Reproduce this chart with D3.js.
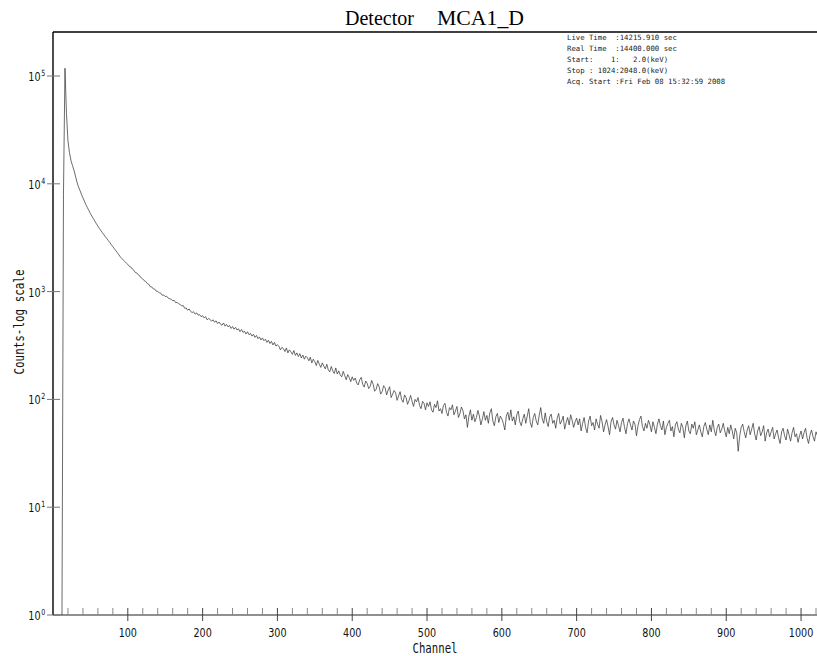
<!DOCTYPE html>
<html lang="en">
<head>
    <meta charset="UTF-8">
    <title>Detector MCA1_D</title>
    <script src="https://d3js.org/d3.v7.min.js"></script>
    <style>
        body { margin: 0; background: #fff; }
    </style>
</head>
<body>
<script>

    const width = 817;
    const height = 656;

    const titleLeft = "Detector";
    const titleRight = "MCA1_D";
    const xLabel = "Channel";
    const yLabel = "Counts-log scale";

    const infoLines = [
        "Live Time  :14215.910 sec",
        "Real Time  :14400.000 sec",
        "Start:    1:   2.0(keV)",
        "Stop : 1024:2048.0(keV)",
        "Acq. Start :Fri Feb 08 15:32:59 2008"
    ];

    const xMajorTicks = [100, 200, 300, 400, 500, 600, 700, 800, 900, 1000];
    const xMinorTicks = [20, 40, 60, 80, 120, 140, 160, 180, 220, 240, 260, 280, 320, 340, 360, 380,
        420, 440, 460, 480, 520, 540, 560, 580, 620, 640, 660, 680, 720, 740, 760, 780,
        820, 840, 860, 880, 920, 940, 960, 980, 1020];
    const yDecades = [0, 1, 2, 3, 4, 5];

    // counts, every second channel starting at channel 12
    const firstChannel = 12;
    const channelStep = 2;
    const counts = [
        // 12 - 98
        1, 8000, 118000, 45000, 25000, 19500, 16500, 14800, 13400, 11800,
        10400, 9400, 8700, 8000, 7400, 6900, 6400, 6000, 5650, 5300,
        5000, 4750, 4500, 4260, 4050, 3850, 3680, 3520, 3370, 3230,
        3100, 2970, 2850, 2720, 2610, 2500, 2400, 2300, 2200, 2100,
        2030, 1960, 1900, 1840,
        // 100 - 130
        1790, 1715, 1690, 1620, 1580, 1505, 1490, 1430, 1400, 1340,
        1310, 1262, 1240, 1190, 1170, 1110,
        // 132 - 200
        1105, 1060, 1055, 1010, 1005, 975, 968, 925, 930, 900,
        905, 870, 858, 850, 822, 830, 790, 795, 770, 762,
        735, 745, 700, 705, 672, 690, 655, 640, 650, 618,
        635, 605, 612, 585, 598,
        // 202 - 300
        570, 586, 548, 562, 552, 530, 548, 520, 536, 505,
        522, 498, 488, 512, 478, 496, 470, 486, 455, 474,
        448, 466, 440, 452, 425, 446, 418, 430, 404, 424,
        398, 410, 386, 402, 376, 392, 366, 380, 356, 372,
        350, 362, 338, 354, 330, 346, 320, 338, 312, 322,
        // 302 - 400
        310, 288, 304, 296, 278, 300, 270, 288, 276, 262,
        284, 256, 270, 250, 266, 242, 258, 236, 252, 244,
        228, 246, 218, 236, 224, 206, 230, 212, 198, 218,
        204, 192, 212, 188, 180, 202, 184, 174, 196, 172,
        184, 168, 162, 182, 166, 152, 170, 160, 146, 162,
        // 402 - 500
        150, 158, 142, 136, 152, 160, 138, 130, 148, 141,
        126, 132, 150, 138, 119, 124, 140, 131, 112, 118,
        134, 128, 110, 122, 131, 104, 112, 121, 115, 98,
        108, 118, 100, 94, 110, 104, 90, 98, 109, 96,
        86, 100, 95, 104, 88, 82, 96, 92, 80, 93,
        // 502 - 600
        86, 95, 80, 76, 90, 84, 97, 78, 82, 74,
        88, 92, 76, 70, 84, 80, 89, 72, 78, 86,
        68, 74, 85, 79, 66, 72, 55, 70, 80, 64,
        73, 62, 68, 79, 70, 58, 66, 77, 64, 71,
        60, 75, 82, 63, 57, 69, 74, 61, 70, 66,
        // 602 - 700
        60, 52, 70, 76, 64, 80, 63, 69, 58, 72,
        78, 62, 57, 66, 73, 60, 70, 82, 61, 55,
        68, 74, 63, 58, 71, 84, 66, 60, 75, 62,
        56, 69, 73, 60, 64, 54, 67, 74, 59, 63,
        70, 53, 61, 68, 58, 72, 64, 55, 62, 67,
        // 702 - 800
        58, 66, 51, 60, 68, 55, 49, 63, 70, 57,
        61, 52, 66, 59, 54, 71, 62, 50, 58, 65,
        56, 47, 62, 68, 58, 53, 64, 57, 50, 61,
        67, 55, 48, 60, 66, 58, 52, 63, 59, 46,
        57, 65, 70, 56, 51, 60, 54, 64, 58, 50,
        // 802 - 900
        62, 55, 48, 59, 66, 57, 52, 63, 47, 55,
        60, 64, 51, 56, 45, 58, 62, 53, 49, 60,
        55, 44, 57, 63, 51, 48, 59, 54, 62, 47,
        52, 58, 50, 45, 56, 61, 53, 47, 58, 50,
        64, 52, 46, 55, 59, 49, 53, 60, 51, 45,
        // 902 - 1024
        55, 48, 58, 51, 43, 54, 49, 33, 46, 55,
        59, 50, 44, 52, 57, 47, 53, 60, 48, 42,
        51, 56, 46, 50, 57, 41, 49, 53, 45, 50,
        55, 43, 48, 52, 44, 39, 50, 54, 46, 42,
        53, 47, 41, 49, 55, 45, 48, 40, 46, 51,
        43, 49, 54, 44, 39, 47, 52, 45, 41, 50,
        46, 48
    ];

    const plotLeft = 53, plotRight = 817, plotTop = 32, plotBottom = 615;

    const x = d3.scaleLinear().domain([0, 1024]).range([53, 819]);
    const y = d3.scaleLog().domain([1, 1e5]).range([615, 76]);

    const svg = d3.select("body").append("svg")
        .attr("width", width)
        .attr("height", height)
        .style("display", "block");

    svg.append("rect").attr("width", width).attr("height", height).attr("fill", "#fff");

    svg.append("clipPath").attr("id", "plot")
        .append("rect")
        .attr("x", plotLeft).attr("y", plotTop)
        .attr("width", plotRight - plotLeft).attr("height", plotBottom - plotTop);

    // spectrum
    const line = d3.line()
        .x((d, i) => x(firstChannel + i * channelStep))
        .y(d => y(d));

    svg.append("path")
        .datum(counts)
        .attr("clip-path", "url(#plot)")
        .attr("fill", "none")
        .attr("stroke", "#3a3a3a")
        .attr("stroke-width", 0.75)
        .attr("d", line);

    // frame
    svg.append("line").attr("x1", plotLeft).attr("x2", plotLeft).attr("y1", plotTop).attr("y2", plotBottom)
        .attr("stroke", "#000").attr("stroke-width", 1.4);
    svg.append("line").attr("x1", plotLeft).attr("x2", plotRight).attr("y1", plotTop).attr("y2", plotTop)
        .attr("stroke", "#000").attr("stroke-width", 1.4);
    svg.append("line").attr("x1", plotLeft).attr("x2", plotRight).attr("y1", plotBottom).attr("y2", plotBottom)
        .attr("stroke", "#222").attr("stroke-width", 1.2);

    const tickFont = "'DejaVu Sans', sans-serif";
    const squeeze = 0.74;

    // x ticks
    svg.selectAll(".xminor").data(xMinorTicks).enter().append("line")
        .attr("x1", d => x(d)).attr("x2", d => x(d))
        .attr("y1", plotBottom - 7).attr("y2", plotBottom)
        .attr("stroke", "#888").attr("stroke-width", 1);

    svg.selectAll(".xmajor").data(xMajorTicks).enter().append("line")
        .attr("x1", d => x(d)).attr("x2", d => x(d))
        .attr("y1", plotBottom - 7).attr("y2", plotBottom + 6)
        .attr("stroke", "#444").attr("stroke-width", 1);

    svg.selectAll(".xlab").data(xMajorTicks).enter().append("text")
        .attr("transform", d => `translate(${x(d)},637) scale(${squeeze},1)`)
        .attr("text-anchor", "middle")
        .style("font-family", tickFont)
        .style("font-size", "13px")
        .attr("fill", "#111")
        .text(d => d);

    // y ticks
    svg.selectAll(".ytick").data(yDecades).enter().append("line")
        .attr("x1", 47).attr("x2", 60)
        .attr("y1", d => y(Math.pow(10, d))).attr("y2", d => y(Math.pow(10, d)))
        .attr("stroke", "#777").attr("stroke-width", 1);

    svg.selectAll(".ybase").data(yDecades).enter().append("text")
        .attr("transform", d => `translate(40.5,${y(Math.pow(10, d)) + 5}) scale(${squeeze},1)`)
        .attr("text-anchor", "end")
        .style("font-family", tickFont)
        .style("font-size", "13px")
        .attr("fill", "#111")
        .text("10");

    svg.selectAll(".yexp").data(yDecades).enter().append("text")
        .attr("transform", d => `translate(41.2,${y(Math.pow(10, d))}) scale(${squeeze},1)`)
        .attr("text-anchor", "start")
        .style("font-family", tickFont)
        .style("font-size", "8.5px")
        .attr("fill", "#111")
        .text(d => d);

    // axis titles
    svg.append("text")
        .attr("x", 435).attr("y", 653)
        .attr("text-anchor", "middle")
        .attr("textLength", 45).attr("lengthAdjust", "spacingAndGlyphs")
        .style("font-family", "'DejaVu Sans Mono', monospace")
        .style("font-size", "14px")
        .attr("fill", "#111")
        .text(xLabel);

    svg.append("text")
        .attr("transform", "translate(24,322) rotate(-90)")
        .attr("text-anchor", "middle")
        .attr("textLength", 105).attr("lengthAdjust", "spacingAndGlyphs")
        .style("font-family", "'DejaVu Sans Mono', monospace")
        .style("font-size", "14px")
        .attr("fill", "#111")
        .text(yLabel);

    // title
    svg.append("text")
        .attr("x", 345).attr("y", 25)
        .style("font-family", "'Liberation Serif', 'Times New Roman', serif")
        .style("font-size", "20px")
        .attr("fill", "#000")
        .text(titleLeft);
    svg.append("text")
        .attr("x", 437).attr("y", 25)
        .attr("textLength", 87).attr("lengthAdjust", "spacingAndGlyphs")
        .style("font-family", "'Liberation Serif', 'Times New Roman', serif")
        .style("font-size", "20px")
        .attr("fill", "#000")
        .text(titleRight);

    // acquisition info
    svg.selectAll(".info").data(infoLines).enter().append("text")
        .attr("x", 567)
        .attr("y", (d, i) => 40 + i * 11)
        .style("font-family", "'DejaVu Sans Mono', monospace")
        .style("font-size", "7.3px")
        .style("white-space", "pre")
        .attr("fill", "#222")
        .text(d => d);

</script>
</body>
</html>
